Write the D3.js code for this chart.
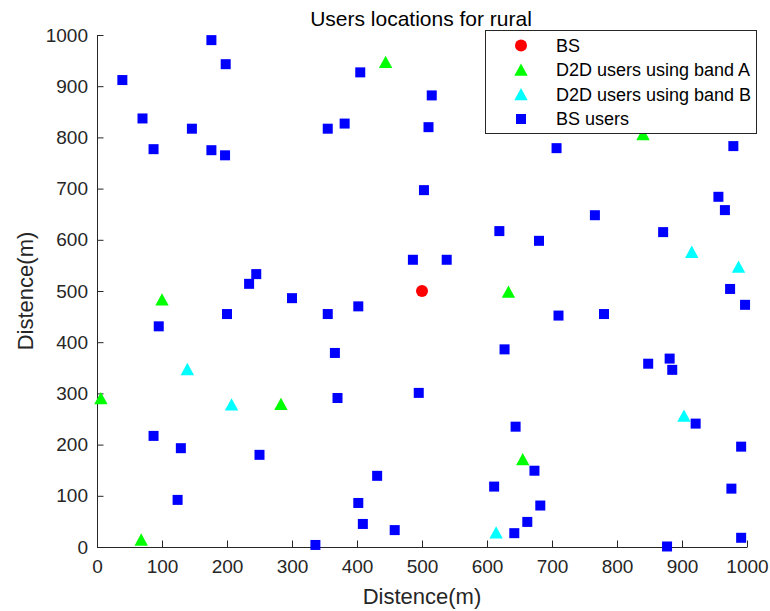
<!DOCTYPE html>
<head>
    <meta charset="utf-8">
    <style>
        body {
            margin: 0;
            padding: 0;
            background: #fff;
        }
        svg text {
            font-family: "Liberation Sans", Arial, sans-serif;
        }
        .axis path, .axis line {
            stroke: #262626;
        }
        .axis text {
            fill: #262626;
            font-size: 19px;
        }
        .legend text {
            font-size: 18px;
            fill: #000;
        }
    </style>
    <script src="https://d3js.org/d3.v7.min.js"></script>
</head>
<body>
    <svg width="770" height="611"></svg>
    <script>
        // data (metres)
        var bs = [[500, 500]];
        var bandA = [[444, 947], [840, 806], [633, 498], [655, 171], [100, 483], [6, 290], [283, 279], [68, 14]];
        var bandB = [[915, 576], [987, 547], [903, 256], [614, 28], [139, 347], [207, 278]];
        var bsUsers = [
            [39, 912], [70, 837], [87, 777], [146, 817], [176, 990], [198, 943], [176, 775], [197, 765],
            [234, 514], [245, 533], [355, 817], [381, 827], [405, 927], [300, 486], [355, 455], [402, 470],
            [200, 455], [95, 431], [366, 379], [370, 291], [87, 217], [129, 193], [250, 180], [124, 92],
            [431, 139], [402, 86], [409, 45], [458, 33], [336, 4],
            [515, 882], [510, 820], [707, 779], [979, 783], [503, 697], [956, 684], [966, 658], [766, 648],
            [619, 617], [871, 615], [680, 598], [486, 561], [538, 561], [974, 504], [997, 473], [710, 452],
            [780, 455], [627, 386], [848, 358], [881, 368], [885, 346], [495, 301], [644, 235], [921, 241],
            [991, 196], [673, 149], [611, 118], [976, 114], [682, 81], [662, 49], [642, 27], [991, 18], [877, 1]
        ];
        var ticks = [0, 100, 200, 300, 400, 500, 600, 700, 800, 900, 1000];
        var legendLabels = ["BS", "D2D users using band A", "D2D users using band B", "BS users"];

        var svg = d3.select("svg");
        var x = d3.scaleLinear().domain([0, 1000]).range([97, 747]);
        var y = d3.scaleLinear().domain([0, 1000]).range([547, 35]);
        var fmt = d3.format("d");

        // axes (ticks inward, no box)
        svg.append("g")
            .attr("class", "axis")
            .attr("transform", "translate(0,547)")
            .call(d3.axisBottom(x).tickValues(ticks).tickFormat(fmt).tickSizeInner(-6.5).tickSizeOuter(0).tickPadding(13))
            .selectAll("text").attr("dy", "0.71em");
        svg.append("g")
            .attr("class", "axis")
            .attr("transform", "translate(97,0)")
            .call(d3.axisLeft(y).tickValues(ticks).tickFormat(fmt).tickSizeInner(-6.5).tickSizeOuter(0).tickPadding(9));

        // marks
        function tri(cx, cy) {
            return "M" + (cx - 6.7) + "," + (cy + 5.8) + "L" + (cx + 6.7) + "," + (cy + 5.8) + "L" + cx + "," + (cy - 6.5) + "Z";
        }
        svg.append("g").selectAll("circle").data(bs).enter().append("circle")
            .attr("cx", function (d) { return x(d[0]); })
            .attr("cy", function (d) { return y(d[1]); })
            .attr("r", 6)
            .attr("fill", "#ff0000");
        svg.append("g").selectAll("path").data(bandA).enter().append("path")
            .attr("d", function (d) { return tri(x(d[0]), y(d[1])); })
            .attr("fill", "#00ff00");
        svg.append("g").selectAll("path").data(bandB).enter().append("path")
            .attr("d", function (d) { return tri(x(d[0]), y(d[1])); })
            .attr("fill", "#00ffff");
        svg.append("g").selectAll("rect").data(bsUsers).enter().append("rect")
            .attr("x", function (d) { return x(d[0]) - 5; })
            .attr("y", function (d) { return y(d[1]) - 5; })
            .attr("width", 10)
            .attr("height", 10)
            .attr("fill", "#0000ff");

        // labels
        svg.append("text")
            .attr("x", 421).attr("y", 26)
            .attr("text-anchor", "middle")
            .style("font-size", "21px")
            .text("Users locations for rural");
        svg.append("text")
            .attr("x", 422).attr("y", 604)
            .attr("text-anchor", "middle")
            .style("font-size", "22px")
            .attr("fill", "#262626")
            .text("Distence(m)");
        svg.append("text")
            .attr("transform", "translate(33,291) rotate(-90)")
            .attr("text-anchor", "middle")
            .style("font-size", "22px")
            .attr("fill", "#262626")
            .text("Distence(m)");

        // legend
        var lg = svg.append("g").attr("class", "legend");
        lg.append("rect")
            .attr("x", 485.5).attr("y", 30.5)
            .attr("width", 271).attr("height", 103)
            .attr("fill", "#fff")
            .attr("stroke", "#262626");
        legendLabels.forEach(function (label, i) {
            var cy = 45.5 + i * 24.5;
            if (i === 0) {
                lg.append("circle").attr("cx", 521).attr("cy", cy).attr("r", 6).attr("fill", "#ff0000");
            } else if (i === 3) {
                lg.append("rect").attr("x", 516).attr("y", cy - 5).attr("width", 10).attr("height", 10).attr("fill", "#0000ff");
            } else {
                lg.append("path").attr("d", tri(521, cy)).attr("fill", i === 1 ? "#00ff00" : "#00ffff");
            }
            lg.append("text")
                .attr("x", 556).attr("y", cy)
                .attr("dy", "0.35em")
                .text(label);
        });
    </script>
</body>
</html>
